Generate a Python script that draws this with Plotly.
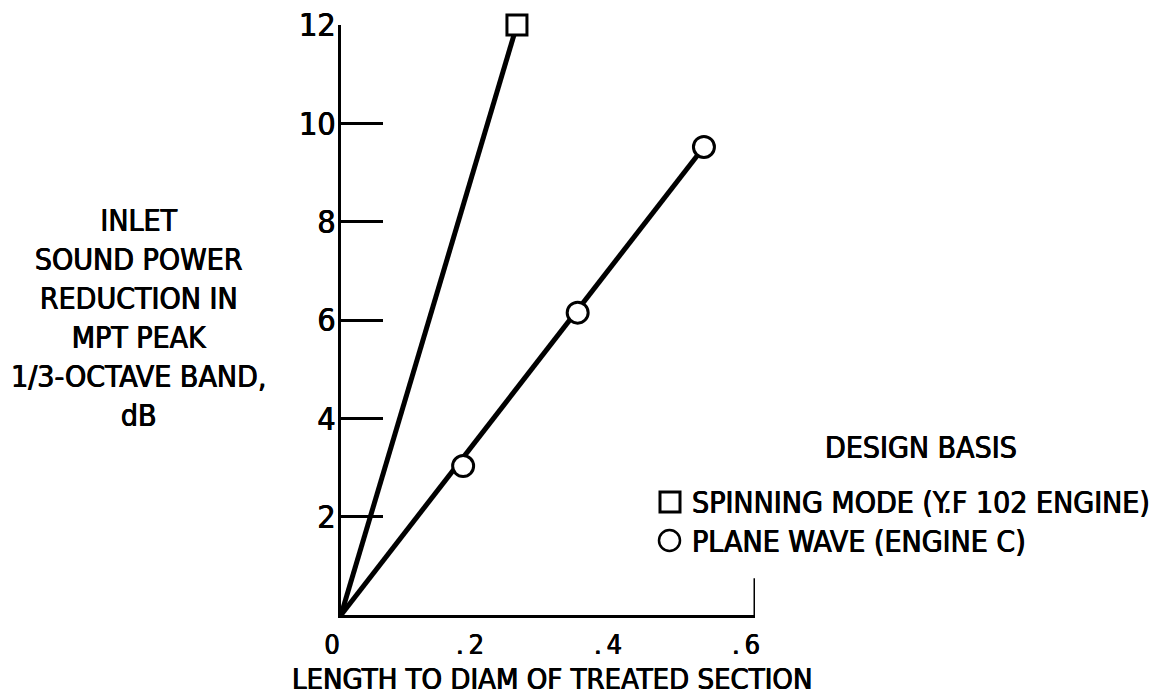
import plotly.graph_objects as go

# Measured attenuation vs. treated-length / diameter ratio
spinning_ld = [0.255]
spinning_db = [12.0]
plane_ld = [0.177, 0.343, 0.526]
plane_db = [3.03, 6.15, 9.52]

origin = (0.0, 0.0)

x_ticks = [0, 0.2, 0.4, 0.6]
x_ticktext = ["0", ".\u20092", ".\u20094", ".\u20096"]
y_ticks = [2, 4, 6, 8, 10, 12]
y_ticktext = ["2", "4", "6", "8", "10", "12"]

y_title_lines = ["INLET", "SOUND POWER", "REDUCTION IN", "MPT PEAK",
                 "1/3-OCTAVE BAND,", "dB"]
x_title = "LENGTH TO DIAM OF TREATED SECTION"
legend_title = "DESIGN BASIS"
legend_labels = ["SPINNING MODE (Y.F 102 ENGINE)", "PLANE WAVE (ENGINE C)"]

FONT = "DejaVu Sans Condensed, Liberation Sans Narrow, Arial Narrow, sans-serif"
HEAVY = "0.5px 0 0 black, -0.4px 0 0 black"
W, H = 1157, 695


def px(x):
    return x / W


def py(y):
    return 1 - y / H


def tfont(size):
    return dict(size=size, family=FONT, color="black", shadow=HEAVY)


fig = go.Figure()

# straight lines through the origin for each design basis
fig.add_trace(go.Scatter(
    x=[origin[0], spinning_ld[-1]], y=[origin[1], spinning_db[-1]],
    mode="lines", line=dict(color="black", width=5), showlegend=False,
    cliponaxis=False, hoverinfo="skip"))
fig.add_trace(go.Scatter(
    x=[origin[0], plane_ld[-1]], y=[origin[1], plane_db[-1]],
    mode="lines", line=dict(color="black", width=5), showlegend=False,
    cliponaxis=False, hoverinfo="skip"))

# data points
fig.add_trace(go.Scatter(
    x=spinning_ld, y=spinning_db, mode="markers", cliponaxis=False,
    marker=dict(symbol="square", size=20, color="white",
                line=dict(color="black", width=3)),
    showlegend=False))
fig.add_trace(go.Scatter(
    x=plane_ld, y=plane_db, mode="markers", cliponaxis=False,
    marker=dict(symbol="circle", size=21, color="white",
                line=dict(color="black", width=3)),
    showlegend=False))

x0, x1 = 341, 755
y_top, y_bot = 25, 615

fig.update_layout(
    width=W, height=H,
    margin=dict(l=0, r=0, t=0, b=0, autoexpand=False),
    paper_bgcolor="white", plot_bgcolor="white",
    font=dict(family=FONT, color="black"),
    xaxis=dict(
        domain=[px(x0), px(x1)], range=[0, 0.6], automargin=False,
        showgrid=False, zeroline=False,
        showline=True, linecolor="black", linewidth=3,
        ticks="", tickvals=x_ticks, ticktext=x_ticktext,
        tickfont=tfont(27), ticklabelshift=-9,
        ticklabelstandoff=4,
    ),
    yaxis=dict(
        domain=[py(y_bot), py(y_top)], range=[0, 12], automargin=False,
        showgrid=False, zeroline=False,
        showline=True, linecolor="black", linewidth=3,
        ticks="inside", ticklen=42, tickwidth=3, tickcolor="black",
        tickvals=y_ticks, ticktext=y_ticktext,
        tickfont=tfont(32), ticklabelstandoff=-4,
    ),
    showlegend=False,
)

# tall end mark at the right end of the abscissa
fig.add_shape(type="line", xref="x", yref="y", x0=0.6, x1=0.6, y0=0, y1=0.75,
              line=dict(color="black", width=3))

# axis titles
fig.add_annotation(
    text="<br>".join(y_title_lines), xref="paper", yref="paper",
    x=px(138), y=py(318), xanchor="center", yanchor="middle",
    align="center", showarrow=False, font=tfont(30))
fig.add_annotation(
    text=x_title, xref="paper", yref="paper",
    x=px(552), y=py(679), xanchor="center", yanchor="middle",
    showarrow=False, font=tfont(29))

# key
fig.add_annotation(
    text=legend_title, xref="paper", yref="paper",
    x=px(921), y=py(448), xanchor="center", yanchor="middle",
    showarrow=False, font=tfont(30))
row_y = [502, 541]
fig.add_shape(type="rect", xref="paper", yref="paper",
              x0=px(660), x1=px(680), y0=py(row_y[0] - 10), y1=py(row_y[0] + 10),
              line=dict(color="black", width=3), fillcolor="white")
fig.add_shape(type="circle", xref="paper", yref="paper",
              x0=px(659), x1=px(680), y0=py(row_y[1] - 11), y1=py(row_y[1] + 10),
              line=dict(color="black", width=2.5), fillcolor="white")
for label, ry in zip(legend_labels, row_y):
    fig.add_annotation(
        text=label, xref="paper", yref="paper",
        x=px(690), y=py(ry), xanchor="left", yanchor="middle",
        showarrow=False, font=tfont(30))

fig.write_html("out.html")
